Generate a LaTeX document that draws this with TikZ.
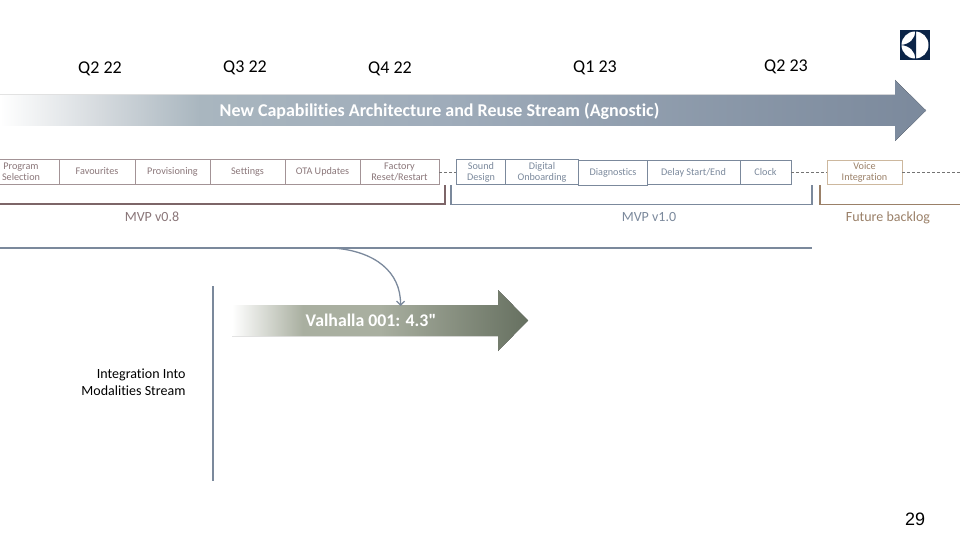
\documentclass[tikz,border=0pt]{standalone}
\usepackage{fontspec}
\setmainfont{Carlito}[Ligatures=NoCommon]
\newfontfamily\bannerfont{Carlito}[Ligatures=NoCommon]
\newfontfamily\pagefont{Liberation Sans}
\usetikzlibrary{arrows.meta}
\definecolor{slatecol}{HTML}{7B899C}
\definecolor{slatelite}{HTML}{A9B6BF}
\definecolor{slatemid}{HTML}{9FACBA}
\definecolor{slatefade}{HTML}{D5DADE}
\definecolor{plumcol}{HTML}{7D6568}
\definecolor{plumtext}{HTML}{8A7679}
\definecolor{plumlite}{HTML}{A39396}
\definecolor{sandcol}{HTML}{CDB89E}
\definecolor{tancol}{HTML}{9A8068}
\definecolor{navycol}{HTML}{0B2447}
\definecolor{sagecol}{HTML}{667060}
\definecolor{sagelite}{HTML}{A9AFA0}
\pgfdeclarehorizontalshading{streamshade}{100bp}{color(0bp)=(white); color(25bp)=(white); color(30.4bp)=(slatefade); color(35.8bp)=(slatelite); color(49bp)=(slatemid); color(75bp)=(slatecol); color(100bp)=(slatecol)}
\pgfdeclarehorizontalshading{valhallashade}{100bp}{color(0bp)=(white); color(25bp)=(white); color(37bp)=(sagelite); color(50bp)=(sagelite); color(75bp)=(sagecol); color(100bp)=(sagecol)}
\tikzset{
  quarter/.style={font=\fontsize{18}{20}\selectfont},
  feature/.style={draw, line width=0.8pt, minimum height=24.5pt, inner sep=0pt, align=center, font=\fontsize{10.2}{11}\selectfont},
  oneline/.style={text height=7pt, text depth=1.4pt},
  mvpfeat/.style={feature, draw=plumlite, text=plumtext},
  nextfeat/.style={feature, draw=slatecol, text=slatecol},
  voicefeat/.style={feature, draw=sandcol, text=tancol},
  stage/.style={font=\fontsize{14}{16}\selectfont, text height=9pt, text depth=3pt},
  bracket/.style={line width=1.5pt},
  dashlink/.style={dash pattern=on 3pt off 2pt, line width=0.5pt, draw=black!55},
  banner/.style={text=white, font=\bannerfont\bfseries\fontsize{18}{20}\selectfont}
}
\begin{document}
\begin{tikzpicture}[x=1pt, y=-1pt]
  \useasboundingbox (0,0) rectangle (960,540);
  \clip (0,0) rectangle (960,540);

  % logo
  \fill[navycol] (900,30) rectangle (930,60);
  \fill[white] (915,45) circle (13.5);
  \fill[navycol] (915.2,31) .. controls (915.2,39) and (910,44) .. (901,45) .. controls (910,46) and (915.2,51) .. (915.2,59) -- (916.2,59) -- (916.2,31) -- cycle;

  % quarters
  \node[quarter] (q222) at (100,69) {Q2 22};
  \node[quarter] (q322) at (245,68) {Q3 22};
  \node[quarter] (q422) at (390,69) {Q4 22};
  \node[quarter] (q123) at (595,68) {Q1 23};
  \node[quarter] (q223) at (786,67) {Q2 23};

  % main stream
  \fill[shading=streamshade] (0,95) -- (895,95) -- (895,80) -- (926,110.5) -- (895,141) -- (895,126) -- (0,126) -- cycle;
  \node[banner] (stream) at (439.5,111.3) {New Capabilities Architecture and Reuse Stream (Agnostic)};

  % features
  \node[mvpfeat, minimum width=76pt] (prog) at (21,172) {Program\\Selection};
  \node[mvpfeat, oneline, minimum width=76pt] (fav) at (97,172) {Favourites};
  \node[mvpfeat, oneline, minimum width=75pt] (prov) at (172.5,172) {Provisioning};
  \node[mvpfeat, oneline, minimum width=75pt] (sett) at (247.5,172) {Settings};
  \node[mvpfeat, oneline, minimum width=75pt] (ota) at (322.5,172) {OTA Updates};
  \node[mvpfeat, minimum width=79pt] (fact) at (399.5,172) {Factory\\Reset/Restart};
  \node[nextfeat, minimum width=49pt] (sound) at (481,172) {Sound\\Design};
  \node[nextfeat, minimum width=73pt] (digi) at (542,172) {Digital\\Onboarding};
  \node[nextfeat, oneline, minimum width=69pt] (diag) at (613,173) {Diagnostics};
  \node[nextfeat, oneline, minimum width=93pt] (delay) at (693.5,172.5) {Delay Start/End};
  \node[nextfeat, oneline, minimum width=51pt] (clock) at (765.5,172.5) {Clock};
  \node[voicefeat, minimum width=75pt] (voice) at (864.5,172.5) {Voice\\Integration};
  \coordinate (dashend) at (960,172.5);
  \draw[dashlink] (fact) -- (sound);
  \draw[dashlink] (clock) -- (voice);
  \draw[dashlink] (voice) -- (dashend);

  % stages
  \draw[bracket, draw=plumcol] (0,204) -- (445,204) -- (445,185);
  \draw[bracket, draw=slatecol] (451,185) -- (451,204.5) -- (812,204.5) -- (812,185);
  \draw[bracket, draw=tancol] (820,185) -- (820,204.5) -- (960,204.5);
  \node[stage, text=plumtext] (v08) at (152,218.5) {MVP v0.8};
  \node[stage, text=slatecol] (v10) at (649,218.5) {MVP v1.0};
  \node[stage, text=tancol] (later) at (888,218.5) {Future backlog};

  % integration
  \draw[bracket, draw=slatecol] (0,248) -- (812,248);
  \draw[line width=1.3pt, draw=slatecol] (213,286) -- (213,481);
  \node[align=right, anchor=east, font=\fontsize{14}{17}\selectfont] (modal) at (189,382) {Integration Into\\Modalities Stream};

  % valhalla
  \fill[shading=valhallashade] (232,305) -- (498,305) -- (498,290) -- (528,320.5) -- (498,351) -- (498,336) -- (232,336) -- cycle;
  \node[banner, font=\bannerfont\bfseries\fontsize{17.8}{20}\selectfont] (valhalla) at (371,320.5) {Valhalla 001: 4.3"};
  \coordinate (busout) at (333,248);
  \coordinate (busin) at (400.5,306);
  \draw[-{Straight Barb[length=4pt,width=8pt]}, line width=1.3pt, draw=slatecol] (busout) .. controls (375,251) and (401,272) .. (busin);

  % page number
  \node[font=\pagefont\fontsize{18}{20}\selectfont] (pagenum) at (915,519) {29};
\end{tikzpicture}
\end{document}
